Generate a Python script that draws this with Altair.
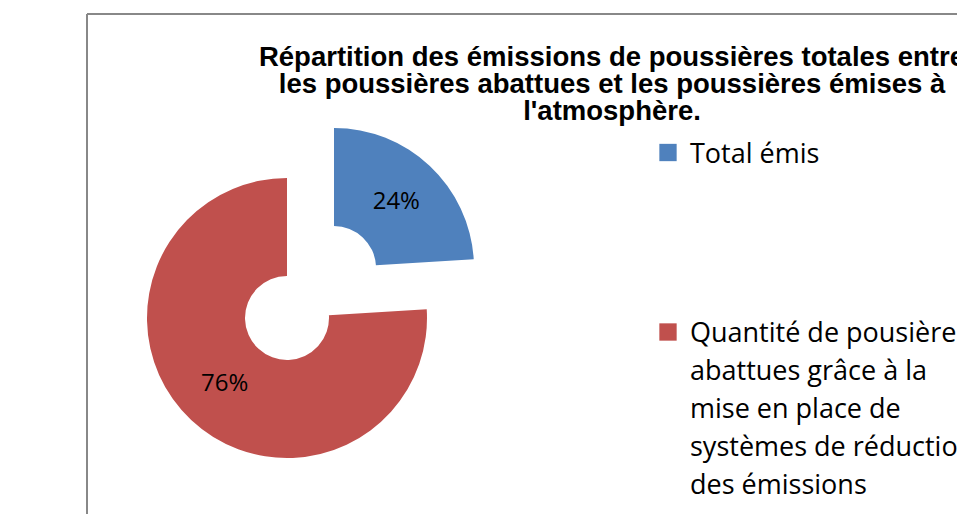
import altair as alt
import pandas as pd

# ---- data ----
categories = [
    "Total émis",
    "Quantité de pousières abattues grâce à la mise en place de systèmes de réduction des émissions",
]
legende_lignes = [
    "Total émis",
    "Quantité de pousières\nabattues grâce à la\nmise en place de\nsystèmes de réduction\ndes émissions",
]
valeurs = [24, 76]
etiquettes = ["24%", "76%"]
ordre = [1, 2]
couleurs = ["#4F81BD", "#C0504D"]
titre_lignes = [
    "Répartition des émissions de poussières totales entre",
    "les poussières abattues et les poussières émises à",
    "l'atmosphère.",
]

df = pd.DataFrame({
    "categorie": categories,
    "legende": legende_lignes,
    "valeur": valeurs,
    "etiquette": etiquettes,
    "ordre": ordre,
})

W, H = 870, 500

color = alt.Color("categorie:N", scale=alt.Scale(domain=categories, range=couleurs), legend=None)

base = (
    alt.Chart(df)
    .transform_joinaggregate(total="sum(valeur)")
    .transform_window(cumul="sum(valeur)", sort=[alt.SortField("ordre")], frame=[None, 0])
    .transform_calculate(
        debut="2*PI*(datum.cumul - datum.valeur)/datum.total",
        fin="2*PI*datum.cumul/datum.total",
        milieu="PI*(2*datum.cumul - datum.valeur)/datum.total",
    )
)

def part(idx, cx, cy):
    sub = base.transform_filter(alt.datum.ordre == idx)
    arc = sub.mark_arc(innerRadius=42, outerRadius=140, x=cx, y=cy).encode(
        theta=alt.Theta("debut:Q", scale=None),
        theta2="fin:Q",
        color=color,
    )
    lab = sub.mark_text(
        radius=91, x=cx, y=cy, font="Open Sans", fontSize=24, color="#000000",
        align="center", baseline="middle",
    ).encode(
        theta=alt.Theta("milieu:Q", scale=None),
        text="etiquette:N",
    )
    return arc + lab

rouge = part(2, 200, 304)
bleu = part(1, 247, 254)

cadre = alt.Chart(pd.DataFrame({"k": [0]}))
bord_gauche = cadre.mark_rule(color="#888888", strokeWidth=2).encode(
    x=alt.value(0), y=alt.value(0), y2=alt.value(H + 20)
)
bord_haut = cadre.mark_rule(color="#888888", strokeWidth=2).encode(
    x=alt.value(0), x2=alt.value(W + 20), y=alt.value(0)
)

titre = alt.Chart(pd.DataFrame({"t": ["\n".join(titre_lignes)]})).mark_text(
    x=525, y=52, align="center", baseline="alphabetic", lineBreak="\n",
    lineHeight=27, font="Liberation Sans", fontWeight="bold", fontSize=27.5, color="#000000",
).encode(text="t:N")

yleg = alt.Y("ordre:Q", scale=alt.Scale(domain=[1, 2], range=[138.5, 318]), axis=None)
carres = alt.Chart(df).mark_square(size=300, x=581, opacity=1).encode(y=yleg, color=color)
textes_leg = alt.Chart(df).mark_text(
    x=603, dy=10, align="left", baseline="alphabetic", lineBreak="\n", lineHeight=38,
    font="Open Sans", fontSize=27, color="#000000",
).encode(y=yleg, text="legende:N")

chart = (
    alt.layer(bord_gauche, bord_haut, rouge, bleu, titre, carres, textes_leg)
    .properties(
        width=W, height=H,
        autosize=alt.AutoSizeParams(type="none"),
        padding={"left": 79, "top": 6, "right": 0, "bottom": 0},
    )
    .configure_view(stroke=None)
)

chart.save("out.html", embed_options={"renderer": "svg", "actions": False})
